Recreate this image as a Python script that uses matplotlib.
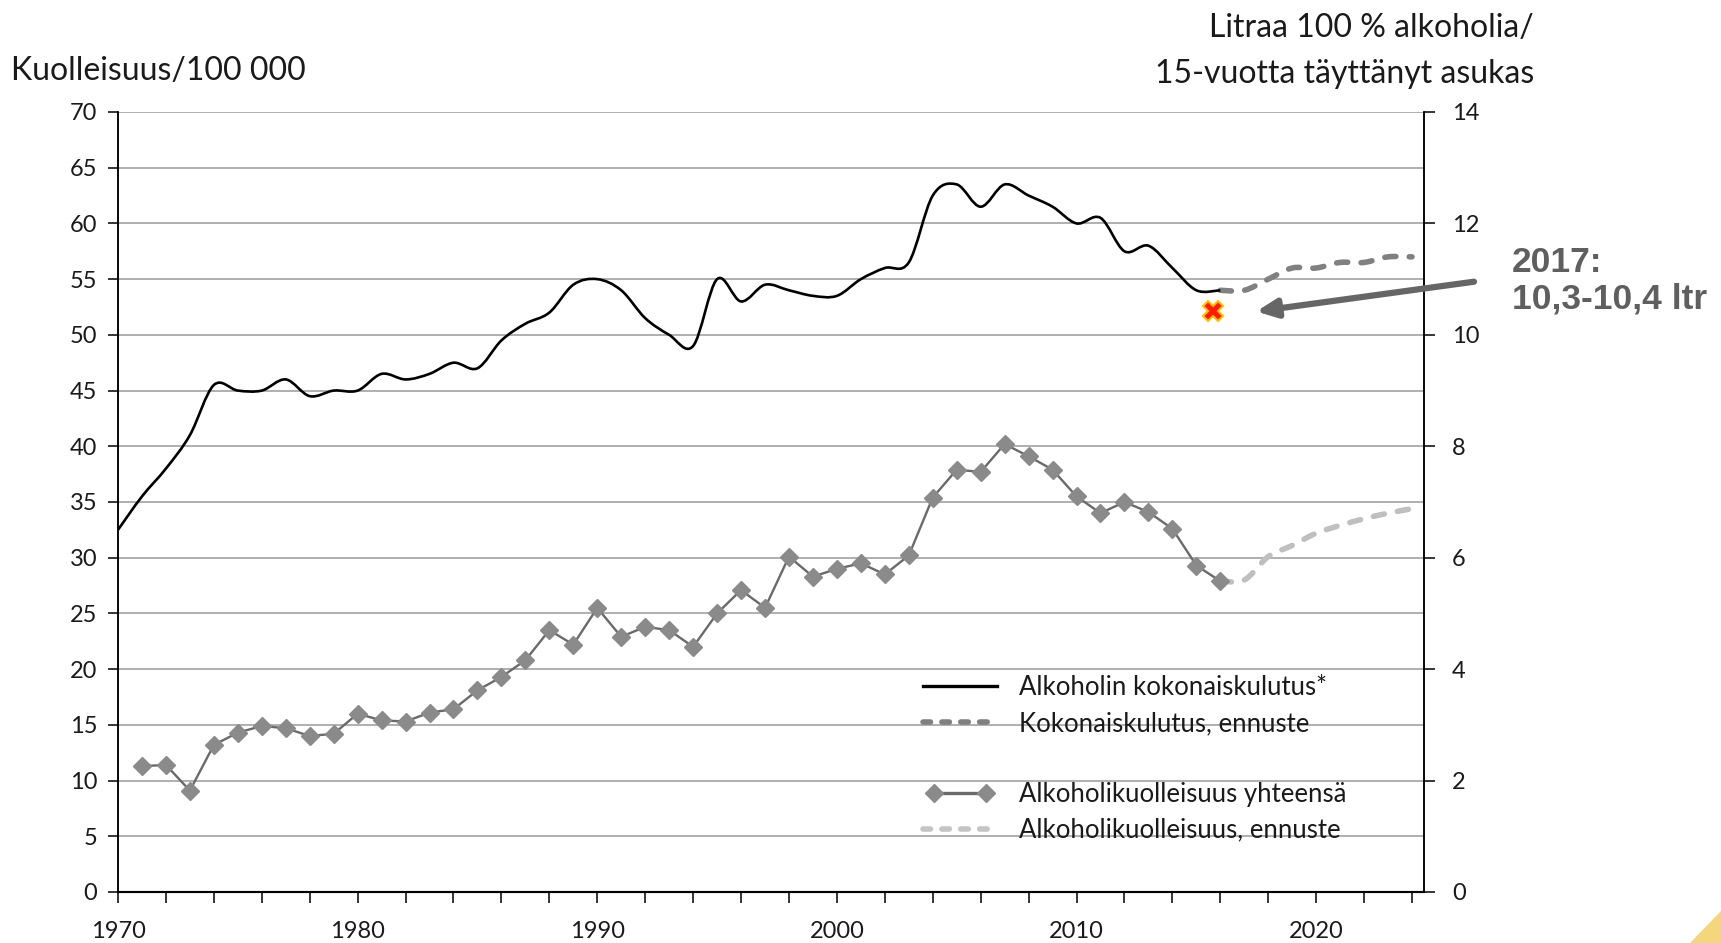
import numpy as np
import matplotlib
matplotlib.use("Agg")
import matplotlib.pyplot as plt
from matplotlib.path import Path
from matplotlib.patches import PathPatch, Rectangle, Polygon
from matplotlib.lines import Line2D
from matplotlib.legend_handler import HandlerLine2D

plt.rcParams['font.family'] = ['Lato', 'DejaVu Sans']

# ---------------- data ----------------
cons_years = list(range(1970, 2017))
cons_litres = [6.5, 7.1, 7.6, 8.2, 9.1, 9.0, 9.0, 9.2, 8.9, 9.0,
               9.0, 9.3, 9.2, 9.3, 9.5, 9.4, 9.9, 10.2, 10.4, 10.9,
               11.0, 10.8, 10.3, 10.0, 9.8, 11.0, 10.6, 10.9, 10.8, 10.7,
               10.7, 11.0, 11.2, 11.3, 12.5, 12.7, 12.3, 12.7, 12.5, 12.3,
               12.0, 12.1, 11.5, 11.6, 11.2, 10.8, 10.8]

cons_fc_years = list(range(2016, 2025))
cons_fc_litres = [10.8, 10.8, 11.0, 11.2, 11.2, 11.3, 11.3, 11.4, 11.4]

mort_years = list(range(1971, 2017))
mort_rate = [11.3, 11.4, 9.1, 13.2, 14.3, 14.9, 14.7, 14.0, 14.2, 16.0,
             15.4, 15.3, 16.1, 16.4, 18.1, 19.3, 20.8, 23.5, 22.2, 25.5,
             22.9, 23.8, 23.5, 22.0, 25.0, 27.1, 25.5, 30.1, 28.3, 29.0,
             29.5, 28.5, 30.2, 35.4, 37.9, 37.7, 40.2, 39.1, 37.9, 35.5,
             34.0, 35.0, 34.1, 32.6, 29.3, 27.9]

mort_fc_years = list(range(2016, 2025))
mort_fc_rate = [27.9, 28.0, 30.1, 31.1, 32.2, 32.9, 33.5, 34.0, 34.4]

est_2017_x = 2015.7
est_2017_litres = 10.42

left_ticks = list(range(0, 75, 5))
right_ticks = list(range(0, 16, 2))
x_label_years = [1970, 1980, 1990, 2000, 2010, 2020]

legend_labels = ["Alkoholin kokonaiskulutus*", "Kokonaiskulutus, ennuste", " ",
                 "Alkoholikuolleisuus yhteensä", "Alkoholikuolleisuus, ennuste"]
left_title = "Kuolleisuus/100 000"
right_title = "Litraa 100 % alkoholia/\n15-vuotta täyttänyt asukas"
note_text = "2017:\n10,3-10,4 ltr"


def smooth_path(xs, ys):
    pts = np.column_stack([xs, ys]).astype(float)
    n = len(pts)
    verts = [pts[0]]
    codes = [Path.MOVETO]
    for i in range(n - 1):
        p0 = pts[i - 1] if i > 0 else pts[i]
        p1 = pts[i]
        p2 = pts[i + 1]
        p3 = pts[i + 2] if i + 2 < n else pts[i + 1]
        verts += [p1 + (p2 - p0) / 6.0, p2 - (p3 - p1) / 6.0, p2]
        codes += [Path.CURVE4] * 3
    return Path(verts, codes)


W, H = 1721, 943
TXT = '#1a1a1a'
fig = plt.figure(figsize=(W / 100, H / 100), dpi=100)
ax = fig.add_axes([118 / W, 1 - 892 / H, (1424 - 118) / W, (892 - 112) / H])
ax2 = ax.twinx()

ax.set_xlim(1970, 2024.5)
ax.set_ylim(0, 70)
ax2.set_ylim(0, 14)

ax.set_yticks(left_ticks)
ax2.set_yticks(right_ticks)
ax.grid(axis='y', color='#9a9a9a', lw=1.1, zorder=0)
ax.set_axisbelow(True)

ax.set_xticks(x_label_years)
ax.set_xticks(list(range(1970, 2025, 2)), minor=True)
ax.tick_params(axis='x', which='both', direction='out', length=8, width=1.1,
               color='black', pad=13, labelsize=17, labelcolor=TXT)
ax.tick_params(axis='y', direction='out', length=7, width=1.1, color='black',
               pad=8, labelsize=17, labelcolor=TXT)
ax2.tick_params(axis='y', direction='out', length=8, width=1.1, color='black',
                pad=12, labelsize=17, labelcolor=TXT)

for a in (ax, ax2):
    a.spines['top'].set_visible(False)
    for s in ('left', 'right', 'bottom'):
        a.spines[s].set_color('black')
    a.spines['left'].set_linewidth(1.1)
    a.spines['right'].set_linewidth(1.1)
    a.spines['bottom'].set_linewidth(1.5)

# white legend box covering the grid
fig_box = Rectangle((901 / W, 1 - 872 / H), (1408 - 901) / W, (872 - 640) / H,
                    transform=fig.transFigure, facecolor='white', edgecolor='none',
                    zorder=0.5)
ax.add_artist(fig_box)

# mortality series (left axis)
ax.plot(mort_years, mort_rate, color='#6a6a6a', lw=1.7, marker='D', ms=9,
        markerfacecolor='#8a8a8a', markeredgecolor='#8a8a8a', zorder=3)
mfc = PathPatch(smooth_path(mort_fc_years, mort_fc_rate), fill=False,
                edgecolor='#bfbfbf', lw=4, linestyle=(0, (2.0, 2.4)),
                capstyle='round', transform=ax.transData, zorder=2)
ax.add_patch(mfc)

# consumption series (right axis)
cp = PathPatch(smooth_path(cons_years, cons_litres), fill=False,
               edgecolor='black', lw=1.9, transform=ax2.transData, zorder=3)
ax2.add_patch(cp)
cfc = PathPatch(smooth_path(cons_fc_years, cons_fc_litres), fill=False,
                edgecolor='#808080', lw=4, linestyle=(0, (2.0, 2.4)),
                capstyle='round', transform=ax2.transData, zorder=2)
ax2.add_patch(cfc)

# 2017 estimate marker
ax2.plot([est_2017_x], [est_2017_litres], marker='X', ms=15, color='#ff1a00',
         markeredgecolor='#ffc000', markeredgewidth=1.5, zorder=5, clip_on=False)

# arrow + note
ax2.annotate("", xy=(2017.5, est_2017_litres), xycoords='data',
             xytext=(1474 / W, 1 - 281.7 / H), textcoords='figure fraction',
             arrowprops=dict(arrowstyle='-|>,head_length=1.2,head_width=0.55',
                             color='#666666', lw=4.5, shrinkA=0, shrinkB=0),
             annotation_clip=False, zorder=6)
fig.text(1512 / W, 1 - 246 / H, note_text, ha='left', va='top', fontsize=25.5,
         fontweight='bold', color='#5f5f5f', family=['Liberation Sans', 'DejaVu Sans'],
         linespacing=1.12)

# axis titles
fig.text(11 / W, 1 - 80 / H, left_title, ha='left', va='baseline', fontsize=23,
         color=TXT)
r1, r2 = right_title.split("\n")
fig.text(1534 / W, 1 - 36.7 / H, r1, ha='right', va='baseline', fontsize=23, color=TXT)
fig.text(1534 / W, 1 - 82.7 / H, r2, ha='right', va='baseline', fontsize=23, color=TXT)

# legend
LFS = 18.5
h1 = Line2D([], [], color='black', lw=2.4)
h2 = Line2D([], [], color='#808080', lw=4, linestyle=(0, (1.35, 2.05)),
            dash_capstyle='round')
h3 = Line2D([], [], color='none')
h4 = Line2D([], [], color='#6a6a6a', lw=2.4, marker='D', ms=9,
            markerfacecolor='#8a8a8a', markeredgecolor='#8a8a8a')
h5 = Line2D([], [], color='#c4c4c4', lw=4, linestyle=(0, (1.35, 2.05)),
            dash_capstyle='round')
leg = ax2.legend([h1, h2, h3, h4, h5], legend_labels, loc='center left',
                 bbox_to_anchor=(915 / W, 1 - 759 / H),
                 bbox_transform=fig.transFigure, frameon=False, fontsize=LFS,
                 handlelength=3.5, handletextpad=0.55, labelspacing=0.41,
                 borderpad=0, borderaxespad=0, numpoints=2,
                 handler_map={h4: HandlerLine2D(marker_pad=0.74, numpoints=2)})
for t in leg.get_texts():
    t.set_color(TXT)

# decorative corner
fig.add_artist(Polygon([[1690 / W, 0], [1, 0], [1, 1 - 911 / H]], closed=True,
                       transform=fig.transFigure, facecolor='#f4d67c',
                       edgecolor='none'))

fig.savefig("out.png", dpi=100)
